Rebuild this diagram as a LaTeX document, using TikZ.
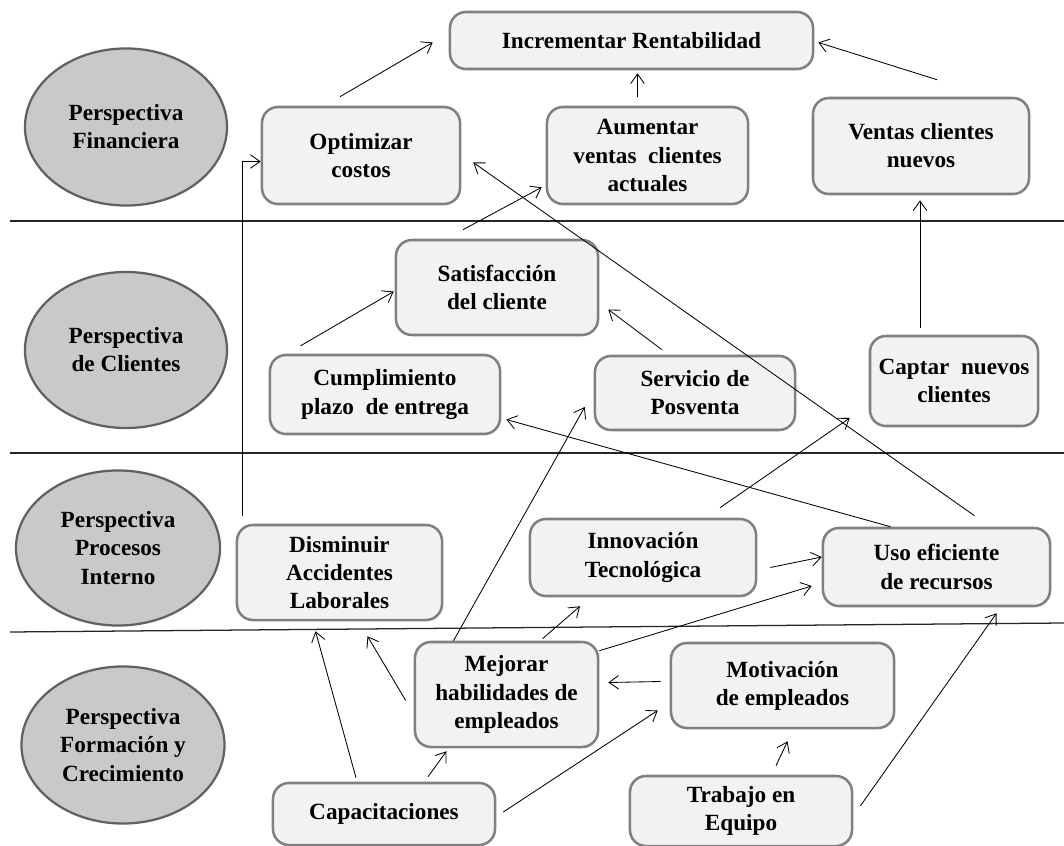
\documentclass[tikz,border=0pt]{standalone}
\usepackage{fontspec}
\setmainfont{Liberation Serif}
\usetikzlibrary{calc,arrows.meta,shapes.geometric}

\begin{document}
\begin{tikzpicture}[x=0.025cm,y=-0.025cm,
		font=\bfseries\fontsize{16.5}{20}\selectfont,
		persp/.style={ellipse,draw=black!62,line width=1.6pt,fill=black!21,align=center,inner sep=0pt},
		obj/.style={rectangle,rounded corners=0.4cm,draw=black!50,line width=1.8pt,fill=black!5,align=center,inner sep=0pt},
		flecha/.style={-{Straight Barb[length=2.4mm,width=3.4mm]},line width=0.6pt},
		sep/.style={line width=0.9pt,black!85}]
		\fill[white] (0,0) rectangle (1064,846);
		\useasboundingbox (0,0) rectangle (1064,846);
		%lignes
		\draw[sep] (10,221) -- (1064,221);
		\draw[sep] (10,453) -- (1064,453);
		\draw[sep] (10,632) -- (1064,623);
		%perspectivas
		\node[persp,minimum width=5.05cm,minimum height=3.925cm] (pfin) at (126,127) {Perspectiva\\Financiera};
		\node[persp,minimum width=5.05cm,minimum height=3.9cm] (pcli) at (126,350) {Perspectiva\\de Clientes};
		\node[persp,minimum width=5.1cm,minimum height=3.875cm] (ppro) at (118,548) {Perspectiva\\Procesos\\Interno};
		\node[persp,minimum width=5.075cm,minimum height=3.925cm] (pfor) at (123,745) {Perspectiva\\Formación y\\Crecimiento};
		%Financiera
		\node[obj,minimum width=9.075cm,minimum height=1.425cm] (rent) at (631.5,40.5) {Incrementar Rentabilidad};
		\node[obj,minimum width=4.95cm,minimum height=2.425cm] (optim) at (361,155.5) {Optimizar\\costos};
		\node[obj,minimum width=5.025cm,minimum height=2.425cm] (aument) at (647.5,155.5) {Aumentar\\ventas~ clientes\\actuales};
		\node[obj,minimum width=5.4cm,minimum height=2.4cm] (vnuevos) at (921,146) {Ventas clientes\\nuevos};
		%Clientes
		\node[obj,minimum width=5.05cm,minimum height=2.375cm] (satisf) at (497,287.5) {Satisfacción\\del cliente};
		\node[obj,minimum width=5.75cm,minimum height=1.975cm] (cumpl) at (385,394.5) {Cumplimiento\\plazo~ de entrega};
		\node[obj,minimum width=5cm,minimum height=1.85cm] (posv) at (695,393) {Servicio de\\Posventa};
		\node[obj,minimum width=4.2cm,minimum height=2.25cm] (captar) at (954,381) {Captar~ nuevos\\clientes};
		%Procesos
		\node[obj,minimum width=5.125cm,minimum height=2.375cm] (dismin) at (339.5,572.5) {Disminuir\\Accidentes\\Laborales};
		\node[obj,minimum width=5.65cm,minimum height=1.925cm] (innov) at (643,557.5) {Innovación\\Tecnológica};
		\node[obj,minimum width=5.675cm,minimum height=1.95cm] (uso) at (936.5,567) {Uso eficiente\\de recursos};
		%Formacion
		\node[obj,minimum width=4.575cm,minimum height=2.625cm] (mejorar) at (506.5,694.5) {Mejorar\\habilidades de\\empleados};
		\node[obj,minimum width=5.575cm,minimum height=2.125cm] (motiv) at (782.5,685.5) {Motivación\\de empleados};
		\node[obj,minimum width=5.55cm,minimum height=1.55cm] (capac) at (384,814) {Capacitaciones};
		\node[obj,minimum width=5.55cm,minimum height=1.75cm] (trabajo) at (741,811) {Trabajo en\\Equipo};
		%flechas
		\draw[flecha] ($(optim.north)+(-21,-9)$) -- ($(rent.west)+(-16,2)$);
		\draw[flecha] ($(aument.north)+(-10,-9)$) -- ($(rent.south)+(6,3)$);
		\draw[flecha] ($(vnuevos.north)+(16,-17)$) -- ($(rent.east)+(4,2)$);
		\draw[flecha] ($(satisf.north)+(-34,-9)$) -- ($(aument.south west)+(-4,-18)$);
		\draw[flecha] ($(uso.north)+(38,-11)$) -- ($(optim.east)+(12,7)$);
		\draw[flecha] ($(captar.north)+(-34,-7)$) -- ($(vnuevos.south)+(-1,5)$);
		\draw[flecha] ($(dismin.north west)+(7,-8)$) |- ($(optim.west)+(0,6)$);
		\draw[flecha] ($(cumpl.north west)+(32,-8)$) -- ($(satisf.west)+(-1,4)$);
		\draw[flecha] ($(posv.north)+(-33,-5)$) -- ($(satisf.east)+(9,22)$);
		\draw[flecha] ($(uso.north)+(-46,0)$) -- ($(cumpl.east)+(5,25)$);
		\draw[flecha] ($(mejorar.north)+(-53,0)$) -- ($(posv.west)+(-9,14)$);
		\draw[flecha] ($(innov.north)+(77,-10)$) -- ($(captar.west)+(-19,37)$);
		\draw[flecha] ($(innov.east)+(13,10)$) -- ($(uso.west)+(0,-10)$);
		\draw[flecha] ($(mejorar.north east)+(0,10)$) -- ($(uso.west)+(-10,19)$);
		\draw[flecha] ($(mejorar.north)+(36,-2)$) -- ($(innov.south)+(-63,9)$);
		\draw[flecha] ($(trabajo.east)+(7,-5)$) -- ($(uso.south)+(60,6)$);
		\draw[flecha] ($(trabajo.north)+(35,-9)$) -- ($(motiv.south)+(5,12)$);
		\draw[flecha] ($(motiv.west)+(-9,-4)$) -- ($(mejorar.east)+(9,-12)$);
		\draw[flecha] ($(capac.east)+(7,-2)$) -- ($(motiv.west)+(-12,25)$);
		\draw[flecha] ($(capac.north)+(44,-5)$) -- ($(mejorar.south)+(-60,3)$);
		\draw[flecha] ($(capac.north)+(-28,-4)$) -- ($(dismin.south)+(-24,10)$);
		\draw[flecha] ($(mejorar.west)+(-8,6)$) -- ($(dismin.south)+(28,15)$);
	\end{tikzpicture}
\end{document}
